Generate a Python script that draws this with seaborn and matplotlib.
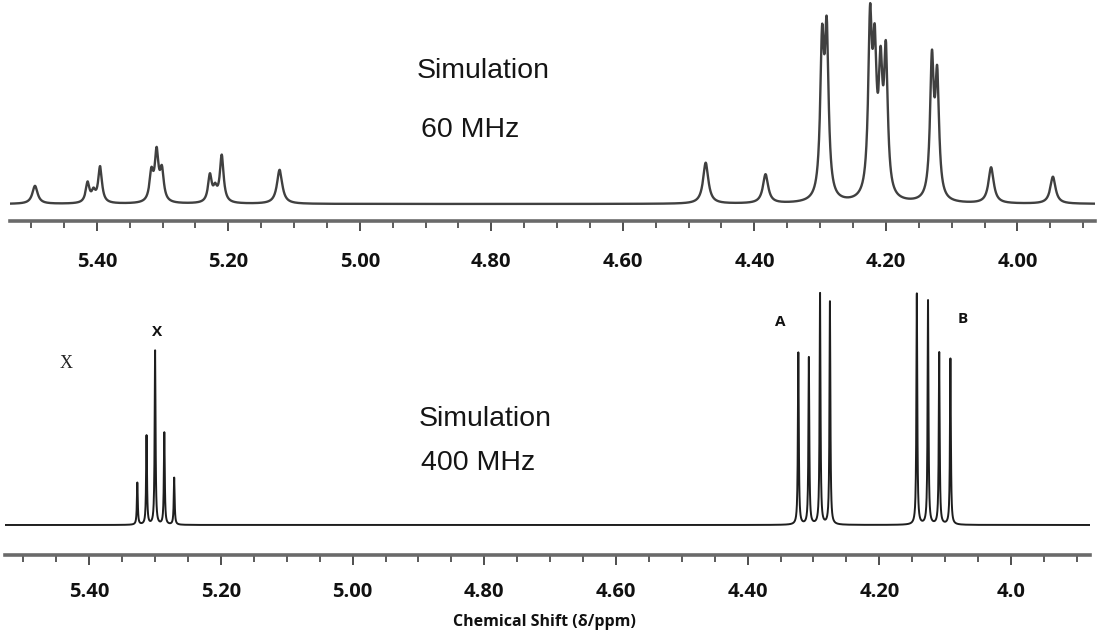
import numpy as np
import pandas as pd
import matplotlib
matplotlib.use("Agg")
import matplotlib.pyplot as plt
from matplotlib.ticker import FixedLocator
import seaborn as sns

# ---------------- data ----------------
# 60 MHz simulation: line positions (ppm), amplitudes and half widths (ppm)
top_shift = [5.494, 5.414, 5.405, 5.395, 5.317, 5.309, 5.301, 5.228, 5.220, 5.210,
             5.122, 4.474, 4.383, 4.297, 4.290, 4.224, 4.217, 4.208, 4.200,
             4.130, 4.122, 4.040, 3.946]
top_amp = [18, 20, 10, 36, 28, 48, 30, 27, 12, 47,
           34, 41, 29, 148, 158, 167, 128, 113, 137,
           135, 117, 36, 27]
top_hw = [0.0048, 0.0034, 0.0034, 0.0034, 0.0034, 0.0034, 0.0034, 0.0034, 0.0034, 0.0034,
          0.0048, 0.0048, 0.0048, 0.0034, 0.0034, 0.0034, 0.0034, 0.0034, 0.0034,
          0.0034, 0.0034, 0.0048, 0.0048]

# 400 MHz simulation: X, A and B multiplets
bot_shift = [5.327, 5.313, 5.300, 5.286, 5.271,
             4.323, 4.307, 4.290, 4.275,
             4.143, 4.126, 4.109, 4.092]
bot_amp = [42, 89, 174, 92, 47,
           172, 167, 231, 223,
           231, 224, 172, 166]
bot_hw = [0.0008] * 13

major_ticks = [5.40, 5.20, 5.00, 4.80, 4.60, 4.40, 4.20, 4.00]
minor_ticks = [5.50, 5.45, 5.35, 5.30, 5.25, 5.15, 5.10, 5.05, 4.95, 4.90, 4.85,
               4.75, 4.70, 4.65, 4.55, 4.50, 4.45, 4.35, 4.30, 4.25, 4.15, 4.10,
               4.05, 3.95, 3.90]
top_labels = ["5.40", "5.20", "5.00", "4.80", "4.60", "4.40", "4.20", "4.00"]
bot_labels = ["5.40", "5.20", "5.00", "4.80", "4.60", "4.40", "4.20", "4.0"]

top_range = (5.532, 3.882)
bot_range = (5.528, 3.880)


def spectrum(lo, hi, shifts, amps, widths, step=0.0001):
    x = np.arange(hi, lo, step)
    y = np.zeros_like(x)
    for s, a, w in zip(shifts, amps, widths):
        y += a / (1.0 + ((x - s) / w) ** 2)
    return pd.DataFrame({"ppm": x, "intensity": y})


top_df = spectrum(top_range[0], top_range[1], top_shift, top_amp, top_hw)
bot_df = spectrum(bot_range[0], bot_range[1], bot_shift, bot_amp, bot_hw)

# ---------------- figure ----------------
sns.set_theme(style="white")
plt.rcParams["font.family"] = ["DejaVu Sans"]

W, H = 1102, 634
fig = plt.figure(figsize=(W / 100, H / 100), dpi=100)

ax_top = fig.add_axes([10 / W, 1 - 221 / H, 1085 / W, 221 / H])
ax_bot = fig.add_axes([5 / W, 1 - 555 / H, 1085 / W, 270 / H])

sns.lineplot(data=top_df, x="ppm", y="intensity", ax=ax_top, estimator=None,
             sort=False, color="#404040", linewidth=1.7)
sns.lineplot(data=bot_df, x="ppm", y="intensity", ax=ax_bot, estimator=None,
             sort=False, color="#1e1e1e", linewidth=1.4)

ax_top.set_ylim(-17, 204)
ax_bot.set_ylim(-30, 240)
ax_top.set_xlim(*top_range)
ax_bot.set_xlim(*bot_range)

tick_font = dict(family="Open Sans", weight="bold", size=14.5)
for ax, labels, pad in ((ax_top, top_labels, 15), (ax_bot, bot_labels, 12.5)):
    ax.patch.set_alpha(0)
    for side in ("left", "right", "top"):
        ax.spines[side].set_visible(False)
    ax.spines["bottom"].set_color("#6a6a6a")
    ax.spines["bottom"].set_linewidth(2.6)
    ax.set_yticks([])
    ax.xaxis.set_major_locator(FixedLocator(major_ticks))
    ax.xaxis.set_minor_locator(FixedLocator(minor_ticks))
    ax.set_xticklabels(labels, fontdict=tick_font, color="#111111")
    ax.tick_params(axis="x", which="major", direction="out", length=7, width=1.3,
                   color="#404040", pad=pad, bottom=True)
    ax.tick_params(axis="x", which="minor", direction="out", length=5, width=1.2,
                   color="#404040", bottom=True)
    ax.set_xlabel("")
    ax.set_ylabel("")
    ax.grid(False)

# annotations
txt = dict(family="Liberation Sans", fontsize=20.5, color="#151515", va="center", ha="left")
fig.text(417 / W, 1 - 71 / H, "Simulation", **txt)
fig.text(421 / W, 1 - 130 / H, "60 MHz", **txt)
fig.text(419 / W, 1 - 419 / H, "Simulation", **txt)
fig.text(421 / W, 1 - 463 / H, "400 MHz", **txt)

fig.text(157 / W, 1 - 332 / H, "X", family="Open Sans", weight="bold", fontsize=11,
         color="#111111", va="center", ha="center")
fig.text(66 / W, 1 - 363 / H, "X", family="Liberation Serif", fontsize=13,
         color="#222222", va="center", ha="center")
fig.text(780 / W, 1 - 322 / H, "A", family="Open Sans", weight="bold", fontsize=11,
         color="#111111", va="center", ha="center")
fig.text(963 / W, 1 - 319 / H, "B", family="Open Sans", weight="bold", fontsize=11,
         color="#111111", va="center", ha="center")

fig.text(544 / W, 1 - 622 / H, "Chemical Shift (δ/ppm)", family="Open Sans",
         weight="bold", fontsize=11.5, color="#111111", va="center", ha="center")

fig.savefig("out.png", dpi=100)
